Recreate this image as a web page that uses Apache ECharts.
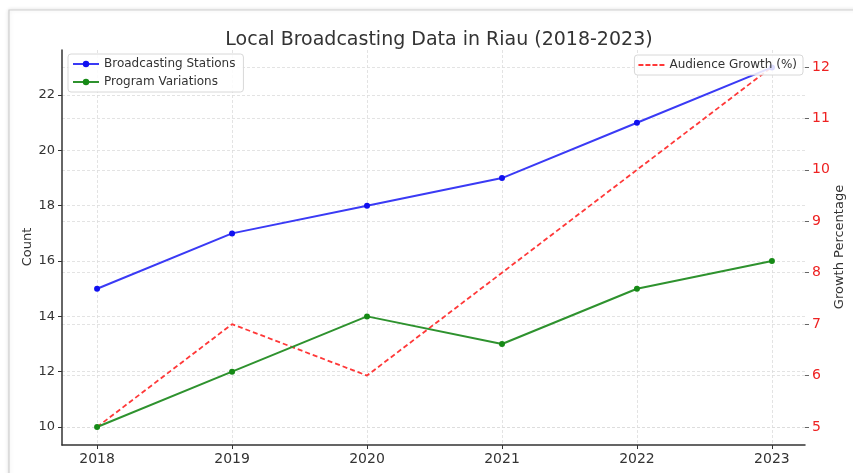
<!DOCTYPE html>
<html>
<head>
<meta charset="utf-8">
<script src="https://cdn.jsdelivr.net/npm/echarts@6/dist/echarts.min.js"></script>
<style>
html,body{margin:0;padding:0;background:#fff;}
#c{width:853px;height:473px;}
</style>
</head>
<body>
<div id="c"></div>
<script>
const years = [2018, 2019, 2020, 2021, 2022, 2023];
const broadcastingStations = [15, 17, 18, 19, 21, 23];
const programVariations = [10, 12, 14, 13, 15, 16];
const audienceGrowth = [5, 7, 6, 8, 10, 12];
const countTicks = [10, 12, 14, 16, 18, 20, 22];
const growthTicks = [5, 6, 7, 8, 9, 10, 11, 12];

const pair = (xs, ys) => xs.map((x, i) => [x, ys[i]]);
const FONT = 'DejaVu Sans';
const chart = echarts.init(document.getElementById('c'), null, {renderer: 'canvas'});
const gridLine = {show: true, lineStyle: {color: '#dcdcdc', type: [3, 2], width: 0.8}};
const dashIcon = 'path://M0,0h5v2h-5zM7,0h5v2h-5zM14,0h5v2h-5zM21,0h5v2h-5z';

chart.setOption({
  animation: false,
  backgroundColor: '#ffffff',
  textStyle: {fontFamily: FONT},
  graphic: [{
    type: 'rect', z: -10, silent: true,
    shape: {x: 9, y: 10, width: 900, height: 500},
    style: {fill: '#ffffff', stroke: '#cfcfcf', lineWidth: 1.2,
            shadowBlur: 4, shadowColor: 'rgba(0,0,0,0.12)'}
  }, {
    type: 'text', x: 28, y: 247, rotation: Math.PI / 2, silent: true,
    style: {text: 'Count', fill: '#333', font: '13px "DejaVu Sans"', align: 'center', verticalAlign: 'middle'}
  }, {
    type: 'text', x: 840, y: 247, rotation: Math.PI / 2, silent: true,
    style: {text: 'Growth Percentage', fill: '#333', font: '13px "DejaVu Sans"', align: 'center', verticalAlign: 'middle'}
  }],
  title: {
    text: 'Local Broadcasting Data in Riau (2018-2023)',
    left: 434, top: 26, textAlign: 'center',
    textStyle: {fontFamily: FONT, fontSize: 19, fontWeight: 'normal', color: '#333'}
  },
  legend: [{
    data: [{name: 'Broadcasting Stations'}, {name: 'Program Variations'}],
    orient: 'vertical', left: 68, top: 54,
    itemWidth: 26, itemHeight: 8, itemGap: 6,
    padding: [4, 8, 4, 4],
    borderColor: '#d8d8d8', borderWidth: 1, borderRadius: 3,
    backgroundColor: 'rgba(255,255,255,0.85)',
    textStyle: {fontFamily: FONT, fontSize: 12, color: '#333'}
  }, {
    data: [{name: 'Audience Growth (%)', icon: dashIcon, itemStyle: {color: '#ff3838'}}],
    right: 50, top: 55,
    itemWidth: 26, itemHeight: 2,
    padding: [3, 6, 3, 4],
    borderColor: '#d8d8d8', borderWidth: 1, borderRadius: 3,
    backgroundColor: 'rgba(255,255,255,0.85)',
    textStyle: {fontFamily: FONT, fontSize: 12, color: '#333', lineHeight: 14},
    z: 20
  }],
  grid: {left: 62, right: 48, top: 50, bottom: 28, containLabel: false, outerBoundsMode: 'none'},
  xAxis: {
    type: 'value', min: 2017.74, max: 2023.245,
    axisLine: {show: true, lineStyle: {color: '#333', width: 1.5}},
    axisTick: {show: true, length: 4, customValues: years, lineStyle: {color: '#333'}},
    axisLabel: {customValues: years, formatter: v => String(v), margin: 7,
                fontFamily: FONT, fontSize: 14, color: '#333'},
    splitLine: gridLine
  },
  yAxis: [{
    type: 'value', min: 9.35, max: 23.63, position: 'left',
    axisLine: {show: true, lineStyle: {color: '#333', width: 1.5}},
    axisTick: {show: true, length: 4, customValues: countTicks, lineStyle: {color: '#333'}},
    axisLabel: {customValues: countTicks, margin: 7, fontFamily: FONT, fontSize: 13, color: '#333'},
    splitLine: gridLine
  }, {
    type: 'value', min: 4.65, max: 12.33, position: 'right',
    axisLine: {show: false},
    axisTick: {show: true, length: 4, customValues: growthTicks, lineStyle: {color: '#666'}},
    axisLabel: {customValues: growthTicks, margin: 7, fontFamily: FONT, fontSize: 14, color: '#ee2222'},
    splitLine: gridLine
  }],
  series: [{
    name: 'Broadcasting Stations', type: 'line', yAxisIndex: 0,
    data: pair(years, broadcastingStations),
    symbol: 'circle', symbolSize: 6, z: 5,
    itemStyle: {color: '#1010f0'},
    lineStyle: {color: '#3a3af5', width: 2}
  }, {
    name: 'Program Variations', type: 'line', yAxisIndex: 0,
    data: pair(years, programVariations),
    symbol: 'circle', symbolSize: 6, z: 5,
    itemStyle: {color: '#168a16'},
    lineStyle: {color: '#2e922e', width: 2}
  }, {
    name: 'Audience Growth (%)', type: 'line', yAxisIndex: 1,
    data: pair(years, audienceGrowth),
    symbol: 'none', showSymbol: false, z: 4,
    itemStyle: {color: '#ff3838'},
    lineStyle: {color: '#ff3838', width: 1.8, type: [5, 3]}
  }]
});
</script>
</body>
</html>
